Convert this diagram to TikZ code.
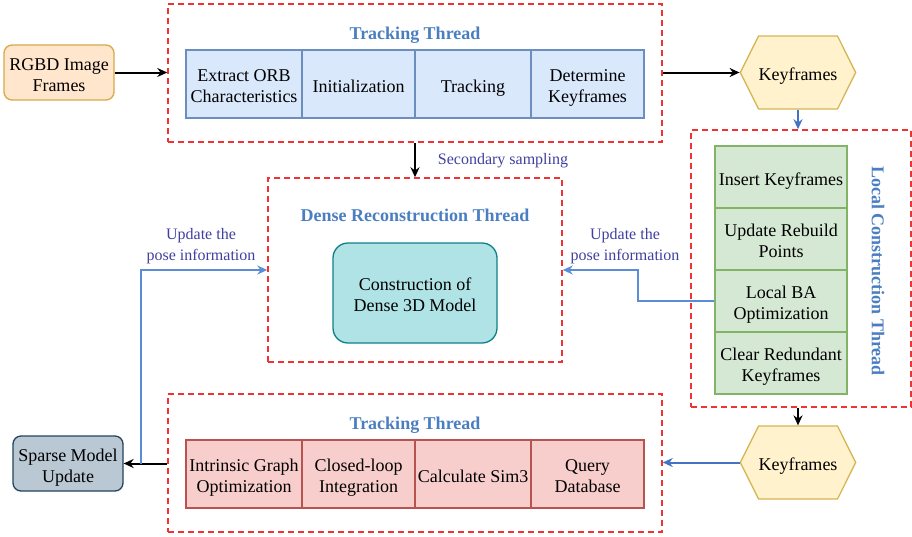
\documentclass[tikz,border=0pt]{standalone}
\usepackage{fontspec}
\setmainfont{Liberation Serif}
\usetikzlibrary{arrows.meta,shapes.symbols,calc}

\definecolor{threadred}{RGB}{240,50,50}
\definecolor{titleblue}{RGB}{74,126,193}
\definecolor{labelcol}{RGB}{64,64,160}
\definecolor{arrowblue}{RGB}{68,114,196}
\definecolor{poseblue}{RGB}{91,141,214}
\definecolor{bluefill}{RGB}{218,232,252}
\definecolor{blueline}{RGB}{108,142,191}
\definecolor{greenfill}{RGB}{213,232,212}
\definecolor{greenline}{RGB}{130,179,102}
\definecolor{redfill}{RGB}{248,206,204}
\definecolor{redline}{RGB}{184,84,80}
\definecolor{hexfill}{RGB}{255,242,204}
\definecolor{hexline}{RGB}{214,182,86}
\definecolor{orangefill}{RGB}{255,230,204}
\definecolor{orangeline}{RGB}{214,170,70}
\definecolor{tealfill}{RGB}{176,227,230}
\definecolor{tealline}{RGB}{14,128,136}
\definecolor{grayfill}{RGB}{186,200,211}
\definecolor{grayline}{RGB}{35,68,93}

% centred block of lines, set a little low inside its box
\newcommand\boxtext[1]{\raisebox{-3.8pt}[\height][\depth]{\begin{tabular}{@{}c@{}}#1\end{tabular}}}

\begin{document}
\begin{tikzpicture}[x=1pt,y=-1pt,
  font=\fontsize{18}{21}\selectfont,
  threadbox/.style={draw=threadred, line width=1.5pt, dash pattern=on 6pt off 4pt,
    rectangle, inner sep=0pt},
  cell/.style={draw, line width=1.3pt, minimum height=68pt, inner sep=0pt},
  bluecell/.style={cell, fill=bluefill, draw=blueline},
  redcell/.style={cell, fill=redfill, draw=redline},
  greencell/.style={draw=greenline, fill=greenfill, line width=1.3pt, minimum width=132pt,
    minimum height=62pt, inner sep=0pt},
  hexnode/.style={shape=signal, signal to=west and east, signal pointer angle=127,
    draw=hexline, fill=hexfill, line width=1.3pt, minimum width=110pt, minimum height=73pt,
    inner sep=0pt},
  roundbox/.style={draw, rounded corners=8pt, line width=1.3pt, minimum width=110pt,
    minimum height=55pt, inner sep=0pt},
  title/.style={text=titleblue, font=\fontsize{18}{21}\selectfont\bfseries},
  lbl/.style={text=labelcol, font=\fontsize{16}{21}\selectfont, align=center},
  tip/.style={-{Stealth[length=10pt,width=9pt]}},
  blackarrow/.style={draw=black, line width=2pt, tip},
  bluearrow/.style={draw=arrowblue, line width=2pt, tip},
  posearrow/.style={draw=poseblue, line width=1.8pt, tip},
]
\useasboundingbox (0,0) rectangle (912,536);

% thread containers
\node[threadbox, minimum width=494pt, minimum height=138pt] (trk) at (415,73) {};
\node[threadbox, minimum width=294pt, minimum height=184pt] (dense) at (415,270) {};
\node[threadbox, minimum width=220pt, minimum height=277pt] (loc) at (801,268.5) {};
\node[threadbox, minimum width=494pt, minimum height=138pt] (bot) at (415,463) {};

% titles
\node[title] (trktitle) at (415,35) {Tracking Thread};
\node[title] (densetitle) at (415,215) {Dense Reconstruction Thread};
\node[title, rotate=-90] (loctitle) at (878,271) {Local Construction Thread};
\node[title] (bottitle) at (415,425) {Tracking Thread};

% tracking stages
\node[bluecell, minimum width=116pt] (t1) at (244,84) {\boxtext{Extract ORB\\Characteristics}};
\node[bluecell, minimum width=113pt] (t2) at (358.5,84) {\boxtext{Initialization}};
\node[bluecell, minimum width=116pt] (t3) at (473,84) {\boxtext{Tracking}};
\node[bluecell, minimum width=113pt] (t4) at (587.5,84) {\boxtext{Determine\\Keyframes}};

% loop closing stages
\node[redcell, minimum width=116pt] (r1) at (244,474) {\boxtext{Intrinsic Graph\\Optimization}};
\node[redcell, minimum width=113pt] (r2) at (358.5,474) {\boxtext{Closed-loop\\Integration}};
\node[redcell, minimum width=116pt] (r3) at (473,474) {\boxtext{Calculate Sim3}};
\node[redcell, minimum width=113pt] (r4) at (587.5,474) {\boxtext{Query\\Database}};

% local mapping stages
\node[greencell] (g1) at (781,177) {\boxtext{Insert Keyframes}};
\node[greencell] (g2) at (781,239) {\boxtext{Update Rebuild\\Points}};
\node[greencell] (g3) at (781,301) {\boxtext{Local BA\\Optimization}};
\node[greencell] (g4) at (781,363) {\boxtext{Clear Redundant\\Keyframes}};

% dense model
\node[roundbox, draw=tealline, fill=tealfill, rounded corners=15pt,
  minimum width=164pt, minimum height=100pt] (model) at (415,293) {\boxtext{Construction of\\Dense 3D Model}};

% inputs and outputs
\node[roundbox, draw=orangeline, fill=orangefill] (rgbd) at (59,72.5) {\boxtext{RGBD Image\\Frames}};
\node[roundbox, draw=grayline, fill=grayfill] (sparse) at (68,463.5) {\boxtext{Sparse Model\\Update}};
\node[hexnode] (kf1) at (798,72.5) {\boxtext{Keyframes}};
\node[hexnode] (kf2) at (798,462.5) {\boxtext{Keyframes}};

% connectors
\draw[blackarrow] (rgbd.east) -- (rgbd.east -| trk.west);
\draw[blackarrow] (kf1.west -| trk.east) -- (kf1.west);
\draw[bluearrow] (kf1.south) -- (kf1.south |- loc.north);
\draw[blackarrow] (trk.south) -- (dense.north);
\node[lbl] (seclbl) at (503,161) {Secondary sampling};
\coordinate (bendA) at (638,301);
\draw[posearrow] (g3.west) -- (bendA) |- (dense.east);
\node[lbl] (poselblR) at (625,246) {Update the\\pose information};
\draw[blackarrow] (loc.south -| kf2.north) -- (kf2.north);
\draw[bluearrow] (kf2.west) -- (kf2.west -| bot.east);
\draw[blackarrow] (sparse.east -| bot.west) -- (sparse.east);
\coordinate (bendB) at (141,463.5);
\draw[posearrow] (bendB) |- (dense.west);
\node[lbl] (poselblL) at (201,246) {Update the\\pose information};
\end{tikzpicture}
\end{document}
